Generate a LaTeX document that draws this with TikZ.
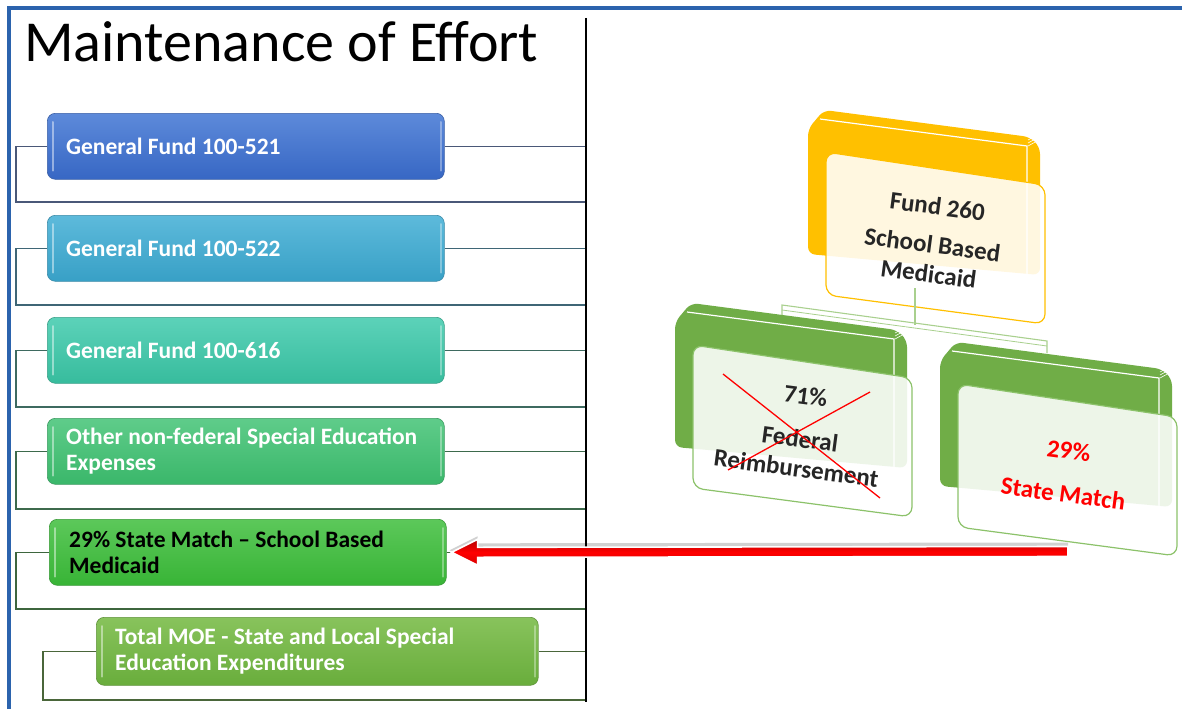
\documentclass[tikz,border=0pt]{standalone}
\usepackage{fontspec}
\setmainfont{Carlito}
\definecolor{frameblue}{HTML}{2B63AD}
\definecolor{bA}{HTML}{4A78D0}\definecolor{bAt}{HTML}{5D8ADA}\definecolor{bAb}{HTML}{3767C4}
\definecolor{bB}{HTML}{4AAED2}\definecolor{bBt}{HTML}{5DBADB}\definecolor{bBb}{HTML}{38A0C6}
\definecolor{bC}{HTML}{48C8AA}\definecolor{bCt}{HTML}{5CD2B9}\definecolor{bCb}{HTML}{37BC9D}
\definecolor{bD}{HTML}{4CC27A}\definecolor{bDt}{HTML}{5FCC8A}\definecolor{bDb}{HTML}{3AB76A}
\definecolor{bE}{HTML}{48BF46}\definecolor{bEt}{HTML}{5CC85A}\definecolor{bEb}{HTML}{38B436}
\definecolor{bF}{HTML}{78B84A}\definecolor{bFt}{HTML}{88C35C}\definecolor{bFb}{HTML}{69AD3C}
\definecolor{lnA}{HTML}{4A5878}\definecolor{lnB}{HTML}{3F6676}\definecolor{lnC}{HTML}{3E6A60}
\definecolor{lnD}{HTML}{3D6A4C}\definecolor{lnE}{HTML}{3E663E}\definecolor{lnF}{HTML}{4A663A}
\definecolor{gblock}{HTML}{70AD47}\definecolor{gborder}{HTML}{8CC26A}
\definecolor{oblock}{HTML}{FFC000}
\definecolor{treeln}{HTML}{A9D08E}
\tikzset{
  fbox/.style n args={3}{rounded corners=8pt, draw=#1!80!black, line width=0.6pt,
     top color=#2, bottom color=#3, inner sep=0pt, minimum width=397pt, minimum height=66pt, anchor=north west},
  boxtext/.style={anchor=west, align=left, text=white, inner sep=0pt,
     font=\bfseries\fontsize{23.5}{26}\selectfont},
  hl/.style={white, opacity=0.45, line width=2pt, line cap=round},
  bk/.style={line width=1.2pt},
  cardtxt/.style={align=center, rotate=-7.5, inner sep=0pt,
     font=\bfseries\fontsize{25}{29.5}\selectfont},
  treeline/.style={treeln, line width=1.1pt}
}
\newcommand\threedblock[4]{%
 \begin{scope}[shift={(#1,#2)}]
  \fill[#3, rounded corners=7pt] (0,129) -- (0,4) -- (16,-15) -- (222,12) -- (232,22) -- (232,150) -- cycle;
  \draw[white, line width=1.2pt] (12,-6) -- (219,21) -- (219,152);
  \draw[white, line width=0.6pt] (220,15) -- (231,9) (220,18) -- (231,12) (220,21) -- (231,15);
  \draw[#4, line width=1.2pt, fill=white, fill opacity=0.88, rounded corners=10pt]
     (18,27) -- (237,60) -- (237,199) -- (18,170) -- cycle;
 \end{scope}}
\begin{document}
\begin{tikzpicture}[x=1pt,y=-1pt]
\useasboundingbox (0,0) rectangle (1182,709);
\fill[white] (0,0) rectangle (1182,709);
% frame
\draw[frameblue, line width=4pt] (8.5,709) -- (8.5,8.5) -- (1182,8.5);
\node[anchor=base west, inner sep=0pt, font=\fontsize{58}{62}\selectfont] (title) at (24,62) {Maintenance of Effort};
% separator
\coordinate (sepT) at (586,18); \coordinate (sepB) at (586,702);
% boxes
\node[fbox={bA}{bAt}{bAb}] (b1) at (47,113) {};
\node[fbox={bB}{bBt}{bBb}] (b2) at (47,215) {};
\node[fbox={bC}{bCt}{bCb}] (b3) at (47,317) {};
\node[fbox={bD}{bDt}{bDb}] (b4) at (47,418) {};
\node[fbox={bE}{bEt}{bEb}] (b5) at (49,519) {};
\node[fbox={bF}{bFt}{bFb}, minimum width=442pt, minimum height=68pt] (b6) at (96,617) {};
\foreach \b in {b1,b2,b3,b4,b5,b6}{
  \draw[hl] ([xshift=6pt,yshift=-9pt]\b.north west) -- ([xshift=6pt,yshift=9pt]\b.south west);
  \draw[hl, opacity=0.35] ([xshift=-4pt,yshift=-9pt]\b.north east) -- ([xshift=-4pt,yshift=9pt]\b.south east);
}
\node[boxtext, xshift=19pt] (t1) at (b1.west) {General Fund 100-521};
\node[boxtext, xshift=19pt] (t2) at (b2.west) {General Fund 100-522};
\node[boxtext, xshift=19pt] (t3) at (b3.west) {General Fund 100-616};
\node[boxtext, xshift=19pt] (t4) at (b4.west) {Other non-federal Special Education\\Expenses};
\node[boxtext, xshift=20pt, text=black] (t5) at (b5.west) {29\% State Match -- School Based\\Medicaid};
\node[boxtext, xshift=19pt] (t6) at (b6.west) {Total MOE - State and Local Special\\Education Expenditures};
% brackets
\draw[bk, lnA] (b1.west) -| (16,202) -- (sepT|-0,202); \draw[bk, lnA] (b1.east) -- (sepT|-b1.east);
\draw[bk, lnB] (b2.west) -| (16,305) -- (sepT|-0,305); \draw[bk, lnB] (b2.east) -- (sepT|-b2.east);
\draw[bk, lnC] (b3.west) -| (16,407) -- (sepT|-0,407); \draw[bk, lnC] (b3.east) -- (sepT|-b3.east);
\draw[bk, lnD] (b4.west) -| (16,509) -- (sepT|-0,509); \draw[bk, lnD] (b4.east) -- (sepT|-b4.east);
\draw[bk, lnE] (b5.west) -| (16,609) -- (sepT|-0,609); \draw[bk, lnE] (b5.east) -- (sepT|-b5.east);
\draw[bk, lnF] (b6.west) -| (43,700) -- (sepT|-0,700); \draw[bk, lnF] (b6.east) -- (sepT|-b6.east);
\draw[black, line width=1.3pt] (sepT) -- (sepB);
% tree connectors
\coordinate (fundbot) at (915,288); \coordinate (barmid) at (915,324.5);
\coordinate (barL) at (782,305); \coordinate (barR) at (1047,341);
\draw[treeline] (782,316) -- (barL) -- (barR) -- (1047,353);
\draw[treeline, line width=0.8pt] (782,310) -- (1047,346);
% 3D blocks
\threedblock{808}{125}{oblock}{oblock}
\threedblock{675}{318}{gblock}{gborder}
\threedblock{940}{357}{gblock}{gborder}
\draw[treeline] (fundbot) -- (barmid);
% card texts
\node[cardtxt, text=black!85] (fund) at (933,240) {Fund 260\\[9pt]School Based\\Medicaid};
\node[cardtxt, text=black!85] (fed) at (801,432) {71\%\\[14pt]Federal\\Reimbursement};
\node[cardtxt, text=red] (state) at (1066,472) {29\%\\[14pt]State Match};
\draw[red, line width=1.3pt] (723,374) -- (880,498) (870,392) -- (728,470);
% arrow
\coordinate (arS) at (1068,551.5);
\coordinate (tip) at ([xshift=5pt]b5.east);
\fill[black, opacity=0.18] ([yshift=9pt]arS) -- ([xshift=26pt,yshift=9pt]tip) -- ([xshift=26pt,yshift=16pt]tip) -- ([xshift=-2pt,yshift=2pt]tip) -- ([xshift=26pt,yshift=-10pt]tip) -- ([xshift=26pt,yshift=-2pt]tip) -- ([yshift=-2pt]arS) -- cycle;
\draw[white, line width=1.6pt, top color=red!70!black, bottom color=red!85!black, middle color=red]
  ([yshift=5pt]arS) -- ([xshift=26pt,yshift=5pt]tip) -- ([xshift=26pt,yshift=13pt]tip) -- (tip)
  -- ([xshift=26pt,yshift=-13pt]tip) -- ([xshift=26pt,yshift=-5pt]tip) -- ([yshift=-5pt]arS) -- cycle;
\end{tikzpicture}
\end{document}
